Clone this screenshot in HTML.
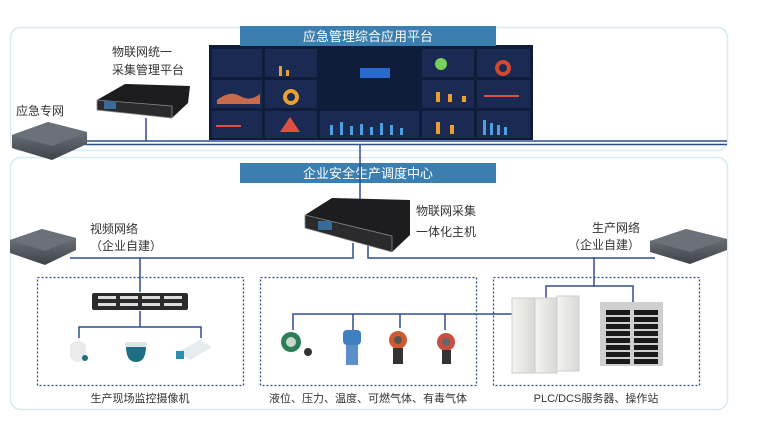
<!DOCTYPE html>
<html><head><meta charset="utf-8"><style>
body{margin:0;background:#fff;}
svg text{font-family:"Liberation Sans","Noto Sans CJK SC",sans-serif;}
</style></head><body>
<svg width="769" height="431" viewBox="0 0 769 431" xmlns="http://www.w3.org/2000/svg">
<defs>
<linearGradient id="sw" x1="0" y1="0" x2="0" y2="1"><stop offset="0" stop-color="#7a7f86"/><stop offset="1" stop-color="#3e434a"/></linearGradient>
<linearGradient id="cab" x1="0" y1="0" x2="1" y2="0"><stop offset="0" stop-color="#f4f4f2"/><stop offset="1" stop-color="#d8d8d4"/></linearGradient>
</defs>
<!-- panels -->
<rect x="10.5" y="27.5" width="717" height="123" rx="10" fill="#fff" stroke="#d6ebf7" stroke-width="1.5"/>
<rect x="10.5" y="157.5" width="717" height="252" rx="10" fill="#fff" stroke="#d6ebf7" stroke-width="1.5"/>
<!-- dashboard -->
<rect x="209" y="45" width="324" height="95" fill="#0f1c3a"/>
<g fill="#1a2a52">
<rect x="212" y="49" width="50" height="28"/><rect x="265" y="49" width="52" height="28"/><rect x="212" y="80" width="50" height="28"/><rect x="265" y="80" width="52" height="28"/><rect x="212" y="111" width="50" height="27"/><rect x="265" y="111" width="52" height="27"/>
<rect x="422" y="49" width="52" height="28"/><rect x="477" y="49" width="53" height="28"/><rect x="422" y="80" width="52" height="28"/><rect x="477" y="80" width="53" height="28"/><rect x="422" y="111" width="52" height="27"/><rect x="477" y="111" width="53" height="27"/>
<rect x="320" y="111" width="99" height="27"/>
</g>
<path d="M217 100 Q230 90 240 96 T260 94 L260 104 L217 104Z" fill="#c96a4a"/>
<rect x="360" y="68" width="30" height="10" fill="#2a6ad0"/>
<circle cx="291" cy="97" r="6" fill="none" stroke="#e8a030" stroke-width="4"/>
<circle cx="503" cy="68" r="6" fill="none" stroke="#d04830" stroke-width="4"/>
<circle cx="441" cy="64" r="6" fill="#7bd05a"/>
<path d="M280 132 L290 117 L300 132Z" fill="#e05040"/>
<g fill="#4aa0e0"><rect x="330" y="125" width="3" height="10"/><rect x="340" y="122" width="3" height="13"/><rect x="350" y="126" width="3" height="9"/><rect x="360" y="124" width="3" height="11"/><rect x="370" y="127" width="3" height="8"/><rect x="380" y="123" width="3" height="12"/><rect x="390" y="125" width="3" height="10"/><rect x="400" y="128" width="3" height="7"/><rect x="483" y="120" width="3" height="15"/><rect x="490" y="123" width="3" height="12"/><rect x="497" y="125" width="3" height="10"/><rect x="504" y="127" width="3" height="8"/></g>
<g fill="#e8a030"><rect x="436" y="92" width="4" height="10"/><rect x="448" y="94" width="4" height="8"/><rect x="462" y="96" width="4" height="6"/><rect x="436" y="122" width="4" height="12"/><rect x="450" y="125" width="4" height="9"/><rect x="279" y="66" width="3" height="10"/><rect x="286" y="70" width="3" height="6"/></g>
<g fill="#e05040"><rect x="216" y="125" width="25" height="2"/><rect x="484" y="95" width="35" height="2"/></g>
<!-- title bars -->
<rect x="240" y="26" width="256" height="20" fill="#3b7fb1"/>
<text x="368" y="41" font-size="13" fill="#fff" text-anchor="middle">应急管理综合应用平台</text>
<rect x="240" y="163" width="256" height="20" fill="#3b7fb1"/>
<text x="368" y="178" font-size="13" fill="#fff" text-anchor="middle">企业安全生产调度中心</text>
<!-- lines -->
<g stroke="#2d4e8f" stroke-width="1.5" fill="none">
<path d="M85 141 H727"/><path d="M85 144.5 H727"/>
<path d="M146 118 V141"/>
<path d="M360 145 V200"/>
<path d="M70 258 H353 V243"/>
<path d="M368 243 V258 H655"/>
<path d="M140 258 V292"/>
<path d="M140 311 V327 M79 338 V327 H201 V338"/>
<path d="M594 258 V286 M546 298 V286 H633 V303"/>
<path d="M293 330 V314 H512 M353 314 V330 M400 314 V328 M445 314 V330"/>
</g>
<!-- dashed boxes -->
<g stroke="#2d4e8f" stroke-width="1.3" fill="none" stroke-dasharray="2 2">
<rect x="37.5" y="277.5" width="206" height="108"/>
<rect x="260.5" y="277.5" width="216" height="108"/>
<rect x="493.5" y="277.5" width="206" height="108"/>
</g>
<!-- switches -->
<g>
<path d="M12 135 L48 122 L87 132 L87 144 L52 160 L12 148Z" fill="url(#sw)"/>
<path d="M12 135 L48 122 L87 132 L52 146Z" fill="#6b7179"/>
<path d="M10 240 L42 229 L76 238 L76 250 L45 265 L10 253Z" fill="url(#sw)"/>
<path d="M10 240 L42 229 L76 238 L45 251Z" fill="#6b7179"/>
<path d="M650 241 L686 229 L727 239 L727 250 L690 264 L650 252Z" fill="url(#sw)"/>
<path d="M650 241 L686 229 L727 239 L690 252Z" fill="#6b7179"/>
</g>
<!-- servers -->
<path d="M97 100 L125 84 L190 86 L188 103 L172 118 L97 110Z" fill="#1d1d1f"/>
<path d="M97 100 L172 106 L172 118 L97 110Z" fill="#2b2b2e" stroke="#888" stroke-width="0.8"/>
<rect x="104" y="101" width="12" height="8" fill="#3a6a9a"/>
<path d="M305 215 L332 198 L410 200 L410 235 L392 252 L305 226Z" fill="#1d1d1f"/>
<path d="M305 215 L392 236 L392 252 L305 228Z" fill="#2b2b2e" stroke="#888" stroke-width="0.8"/>
<rect x="318" y="221" width="14" height="9" fill="#3a6a9a"/>
<!-- patch panel -->
<rect x="92" y="293" width="96" height="17" rx="2" fill="#2a2a2c"/>
<g fill="#ddd"><rect x="98" y="296" width="18" height="3"/><rect x="120" y="296" width="18" height="3"/><rect x="142" y="296" width="18" height="3"/><rect x="164" y="296" width="18" height="3"/><rect x="98" y="303" width="18" height="3"/><rect x="120" y="303" width="18" height="3"/><rect x="142" y="303" width="18" height="3"/><rect x="164" y="303" width="18" height="3"/></g>
<!-- cameras -->
<path d="M70 345 Q78 337 86 345 L86 358 Q78 366 70 358Z" fill="#e8eaec"/>
<circle cx="85" cy="358" r="3" fill="#1a6f80"/>
<path d="M126 346 H146 Q146 362 136 362 Q126 362 126 346Z" fill="#1e6f83"/>
<rect x="125" y="342" width="22" height="5" fill="#dfe3e6"/>
<path d="M178 352 L200 340 L212 347 L190 360Z" fill="#e6ebee"/>
<rect x="176" y="351" width="8" height="8" fill="#2a8fb0"/>
<!-- sensors -->
<circle cx="291" cy="342" r="10" fill="#2e7d5a"/><circle cx="291" cy="342" r="5" fill="#c8d8cc"/><circle cx="308" cy="352" r="4" fill="#333"/>
<rect x="343" y="330" width="18" height="15" rx="4" fill="#3d7fc0"/><rect x="346" y="345" width="12" height="20" fill="#5a8fc8"/>
<circle cx="398" cy="340" r="9" fill="#d05a30"/><circle cx="398" cy="340" r="4" fill="#555"/><rect x="393" y="348" width="10" height="16" fill="#333"/>
<circle cx="446" cy="342" r="9" fill="#c85040"/><circle cx="446" cy="342" r="4" fill="#666"/><rect x="442" y="350" width="9" height="14" fill="#333"/>
<!-- PLC cabinets -->
<rect x="512" y="298" width="23" height="75" fill="url(#cab)" stroke="#ccc"/>
<rect x="535" y="298" width="22" height="75" fill="url(#cab)" stroke="#ccc"/>
<rect x="557" y="296" width="22" height="75" fill="url(#cab)" stroke="#ccc"/>
<rect x="600" y="302" width="63" height="64" fill="#cfcfcf"/>
<g fill="#1a1a1a">
<rect x="606" y="310" width="24" height="5"/><rect x="634" y="310" width="24" height="5"/>
<rect x="606" y="317" width="24" height="5"/><rect x="634" y="317" width="24" height="5"/>
<rect x="606" y="324" width="24" height="5"/><rect x="634" y="324" width="24" height="5"/>
<rect x="606" y="331" width="24" height="5"/><rect x="634" y="331" width="24" height="5"/>
<rect x="606" y="338" width="24" height="5"/><rect x="634" y="338" width="24" height="5"/>
<rect x="606" y="345" width="24" height="5"/><rect x="634" y="345" width="24" height="5"/>
<rect x="606" y="352" width="24" height="5"/><rect x="634" y="352" width="24" height="5"/>
<rect x="606" y="359" width="24" height="5"/><rect x="634" y="359" width="24" height="5"/>
</g>
<!-- labels -->
<g font-size="12" fill="#333">
<text x="112" y="56">物联网统一</text>
<text x="112" y="74">采集管理平台</text>
<text x="16" y="115">应急专网</text>
<text x="90" y="233">视频网络</text>
<text x="90" y="250">（企业自建）</text>
<text x="416" y="215">物联网采集</text>
<text x="416" y="236">一体化主机</text>
<text x="592" y="232">生产网络</text>
<text x="568" y="249">（企业自建）</text>
</g>
<g font-size="11" fill="#333" text-anchor="middle">
<text x="140" y="402">生产现场监控摄像机</text>
<text x="368" y="402">液位、压力、温度、可燃气体、有毒气体</text>
<text x="596" y="402">PLC/DCS服务器、操作站</text>
</g>
</svg>
</body></html>
